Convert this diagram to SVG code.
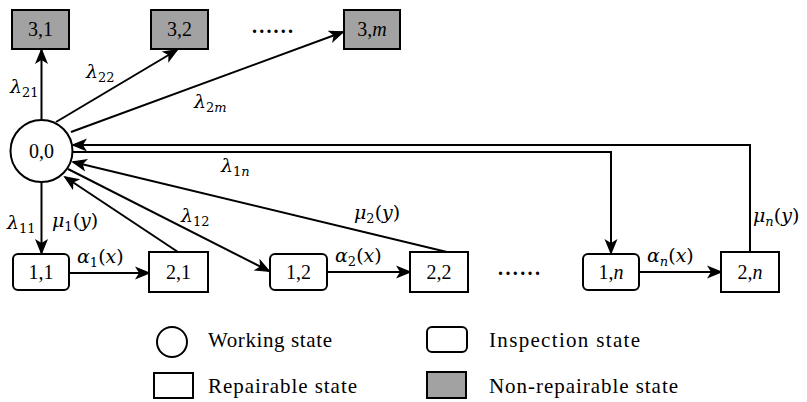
<svg xmlns="http://www.w3.org/2000/svg" width="807" height="402" viewBox="0 0 807 402">
<style>
  .node { fill: #ffffff; stroke: #000; stroke-width: 2; }
  .gray { fill: #a2a2a2; stroke: #000; stroke-width: 2; }
  .edge { fill: none; stroke: #000; stroke-width: 2; marker-end: url(#arr); }
</style>
<defs>
  <marker id="arr" markerUnits="userSpaceOnUse" markerWidth="18" markerHeight="16" viewBox="0 -8 18 16" refX="14" refY="0" orient="auto">
    <path d="M0,-6.5 L16,0 L0,6.5 L4,0 Z" fill="#000"/>
  </marker>
</defs>

<rect width="807" height="402" fill="#fff"/>

<g id="connectors">
  <path class="edge" d="M41.5,120 L41.5,50"/>
  <path class="edge" d="M56,122 L177,50"/>
  <path class="edge" d="M71,132 L343,32"/>
  <path class="edge" d="M750,252 L750,145 L73,145"/>
  <path class="edge" d="M73,152 L611,152 L611,253"/>
  <path class="edge" d="M447,252 L73,162"/>
  <path class="edge" d="M178,252 L65,177"/>
  <path class="edge" d="M68,169 L269,271"/>
  <path class="edge" d="M41.5,182 L41.5,253"/>
  <path class="edge" d="M69,273 L149,273"/>
  <path class="edge" d="M327,272 L410,272"/>
  <path class="edge" d="M639,272 L721,272"/>
</g>

<g id="edge-labels" font-family="'DejaVu Serif', serif" font-size="19" fill="#000">
  <text x="10" y="93"><tspan font-style="italic">λ</tspan><tspan font-size="13" dy="4">21</tspan></text>
  <text x="86" y="78"><tspan font-style="italic">λ</tspan><tspan font-size="13" dy="4">22</tspan></text>
  <text x="194" y="108"><tspan font-style="italic">λ</tspan><tspan font-size="13" dy="4">2</tspan><tspan font-size="13" font-style="italic">m</tspan></text>
  <text x="221" y="172"><tspan font-style="italic">λ</tspan><tspan font-size="13" dy="4">1</tspan><tspan font-size="13" font-style="italic">n</tspan></text>
  <text x="7" y="229"><tspan font-style="italic">λ</tspan><tspan font-size="13" dy="4">11</tspan></text>
  <text x="52" y="227"><tspan font-style="italic">μ</tspan><tspan font-size="13" dy="4">1</tspan><tspan dy="-4">(</tspan><tspan font-style="italic">y</tspan><tspan>)</tspan></text>
  <text x="181" y="222"><tspan font-style="italic">λ</tspan><tspan font-size="13" dy="4">12</tspan></text>
  <text x="77" y="263"><tspan font-style="italic">α</tspan><tspan font-size="13" dy="4">1</tspan><tspan dy="-4">(</tspan><tspan font-style="italic">x</tspan><tspan>)</tspan></text>
  <text x="354" y="219"><tspan font-style="italic">μ</tspan><tspan font-size="13" dy="4">2</tspan><tspan dy="-4">(</tspan><tspan font-style="italic">y</tspan><tspan>)</tspan></text>
  <text x="335" y="262"><tspan font-style="italic">α</tspan><tspan font-size="13" dy="4">2</tspan><tspan dy="-4">(</tspan><tspan font-style="italic">x</tspan><tspan>)</tspan></text>
  <text x="647" y="262"><tspan font-style="italic">α</tspan><tspan font-size="13" font-style="italic" dy="4">n</tspan><tspan dy="-4">(</tspan><tspan font-style="italic">x</tspan><tspan>)</tspan></text>
  <text x="753" y="222"><tspan font-style="italic">μ</tspan><tspan font-size="13" font-style="italic" dy="4">n</tspan><tspan dy="-4">(</tspan><tspan font-style="italic">y</tspan><tspan>)</tspan></text>
</g>

<g id="nodes" font-family="'Liberation Serif', 'Times New Roman', serif" font-size="20" fill="#000" text-anchor="middle">
<g id="n00">
  <circle class="node" cx="41.5" cy="151" r="31"/>
  <text x="41.5" y="157.5" fill="#000">0,0</text>
</g>
<g id="n31">
  <rect class="gray" x="12" y="10" width="57" height="39"/>
  <text x="40.5" y="36" fill="#000">3,1</text>
</g>
<g id="n32">
  <rect class="gray" x="151" y="10" width="57" height="39"/>
  <text x="179.5" y="36" fill="#000">3,2</text>
</g>
<g id="n3m">
  <rect class="gray" x="344" y="10" width="56" height="39"/>
  <text x="372" y="36" fill="#000">3,<tspan font-style="italic">m</tspan></text>
</g>
<g id="n11">
  <rect class="node" x="13" y="254" width="56" height="36" rx="5"/>
  <text x="41" y="278.5" fill="#000">1,1</text>
</g>
<g id="n21">
  <rect class="node" x="149" y="252" width="59" height="40"/>
  <text x="178.5" y="278.5" fill="#000">2,1</text>
</g>
<g id="n12">
  <rect class="node" x="270" y="254" width="57" height="36" rx="5"/>
  <text x="298.5" y="278.5" fill="#000">1,2</text>
</g>
<g id="n22">
  <rect class="node" x="410" y="252" width="58" height="40"/>
  <text x="439" y="278.5" fill="#000">2,2</text>
</g>
<g id="n1n">
  <rect class="node" x="583" y="254" width="56" height="36" rx="5"/>
  <text x="611" y="278.5" fill="#000">1,<tspan font-style="italic">n</tspan></text>
</g>
<g id="n2n">
  <rect class="node" x="721" y="252" width="58" height="40"/>
  <text x="750" y="278.5" fill="#000">2,<tspan font-style="italic">n</tspan></text>
</g>
</g>

<g id="dots" font-family="'Liberation Serif', serif" font-size="20" font-weight="bold" fill="#000">
  <text x="252" y="33" textLength="41" lengthAdjust="spacing">......</text>
  <text x="498" y="275" textLength="42" lengthAdjust="spacing">......</text>
</g>

<g id="legend" font-family="'Liberation Serif', serif" font-size="21" fill="#000">
  <circle class="node" cx="172" cy="342" r="15"/>
  <text x="208" y="347" textLength="124" lengthAdjust="spacing">Working state</text>
  <rect class="node" x="427" y="327" width="40" height="25" rx="5"/>
  <text x="489" y="347" textLength="151" lengthAdjust="spacing">Inspection state</text>
  <rect class="node" x="154" y="373" width="39" height="25"/>
  <text x="208" y="393" textLength="149" lengthAdjust="spacing">Repairable state</text>
  <rect class="gray" x="427" y="372" width="39" height="26"/>
  <text x="489" y="393" textLength="189" lengthAdjust="spacing">Non-repairable state</text>
</g>
</svg>
